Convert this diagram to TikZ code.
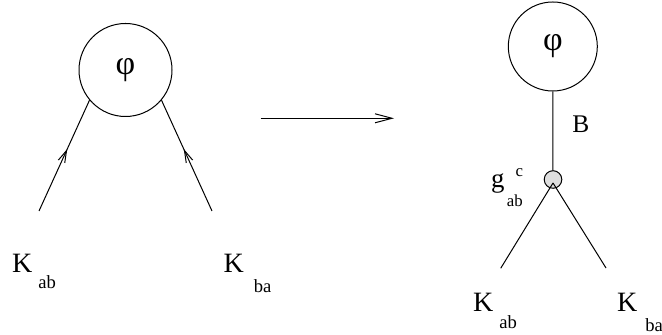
\documentclass[tikz,border=0pt]{standalone}
\usepackage{fontspec}
\setmainfont{Liberation Serif}
\usetikzlibrary{arrows.meta, decorations.markings}
\definecolor{vtxgray}{RGB}{222,222,222}
\newcommand{\subfont}{\fontsize{9.3}{11}\selectfont}
\newcommand{\scrfont}{\fontsize{8.4}{10}\selectfont}
\newcommand{\klbl}[3]{K\hspace{#1}\raisebox{-#2}{\subfont #3}}
\tikzset{
  field/.style  = {circle, draw, line width=0.5pt, inner sep=0pt,
                   font=\fontsize{17}{19}\selectfont},
  vertex/.style = {circle, draw, fill=vtxgray, line width=0.5pt,
                   inner sep=0pt, minimum size=8.8pt},
  leg/.style    = {line width=0.5pt},
  inleg/.style  = {leg, postaction=decorate, decoration={markings,
                   mark=at position 0.56 with {\arrow{Straight Barb[length=6pt,width=3.5pt]}}}},
  lbl/.style    = {anchor=base west, inner sep=0pt, font=\fontsize{14}{16}\selectfont},
}

\begin{document}
\begin{tikzpicture}[x=0.5pt, y=0.5pt]
  \useasboundingbox (0,0) rectangle (662,335);
  % before
  \node[field, minimum size=46.5pt] (phiL) at (125.5,265) {φ};
  \coordinate (kabL) at (39,124);
  \coordinate (kbaL) at (212,124);
  \draw[inleg] (kabL) -- (phiL.220);
  \draw[inleg] (kbaL) -- (phiL.320);
  \node[lbl] (labL) at (11.7,62.7) {\klbl{3pt}{8pt}{ab}};
  \node[lbl] (lbaL) at (223.3,62.7) {\klbl{5pt}{10pt}{ba}};
  % arrow
  \coordinate (arrS) at (260.7,216.7);
  \coordinate (arrE) at (394,216.7);
  \draw[leg, -{Straight Barb[length=8.5pt,width=4.5pt]}] (arrS) -- (arrE);
  % after
  \node[field, minimum size=44.5pt] (phiR) at (552.8,288.5) {φ};
  \node[vertex] (vtx) at (553,155.5) {};
  \coordinate (apex) at (553,152);
  \coordinate (kabR) at (500.7,66.7);
  \coordinate (kbaR) at (606,67);
  \draw[leg] (phiR) -- (vtx);
  \draw[leg] (apex) -- (kabR);
  \draw[leg] (apex) -- (kbaR);
  \node[lbl, font=\fontsize{12.7}{15}\selectfont] (lB) at (572,202) {B};
  \node[lbl, font=\fontsize{13.4}{15}\selectfont] (lg) at (490.7,147.2)
    {g\hspace{1.2pt}\rlap{\raisebox{5.5pt}{\hspace{4.3pt}\scrfont c}}\raisebox{-9.5pt}{\scrfont ab}};
  \node[lbl] (labR) at (472.7,23.3) {\klbl{3pt}{8.3pt}{ab}};
  \node[lbl] (lbaR) at (616.7,23.3) {\klbl{4pt}{10pt}{ba}};
\end{tikzpicture}
\end{document}
